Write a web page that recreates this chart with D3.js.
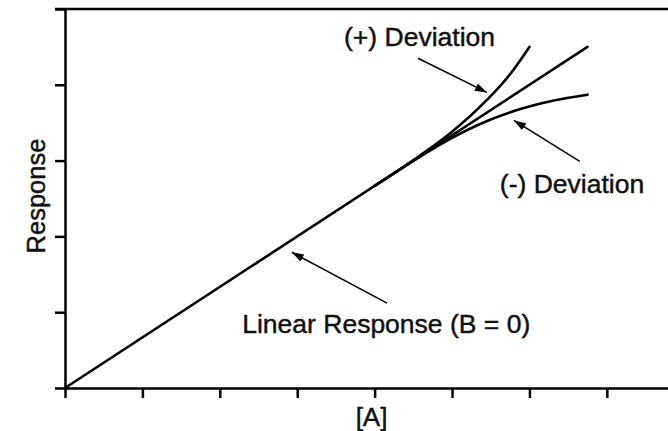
<!DOCTYPE html>
<html>
<head>
<meta charset="utf-8">
<script src="https://cdn.jsdelivr.net/npm/d3@7/dist/d3.min.js"></script>
<style>
  html, body { margin: 0; padding: 0; background: #fff; }
  svg { display: block; }
  text { font-family: "Liberation Sans", Arial, Helvetica, sans-serif; fill: #111; stroke: #111; stroke-width: 0.45; }
</style>
</head>
<body>
<svg id="chart" width="668" height="431"></svg>
<script>
// Tick positions (unlabelled) on both axes
const xTicks = [0, 1, 2, 3, 4, 5, 6, 7];
const yTicks = [0, 1, 2, 3, 4, 5];

// Ideal linear response: Response = (2/3)·[A]
const linearA = [0, 6.75];
const linearR = [0, 4.5];

// Positive deviation branch
const plusA = [4.0, 4.6, 5.0, 5.45, 5.75, 6.0];
const plusR = [2.667, 3.075, 3.38, 3.80, 4.14, 4.5];

// Negative deviation branch
const minusA = [4.0, 4.6, 5.0, 5.4, 5.85, 6.3, 6.75];
const minusR = [2.667, 3.06, 3.30, 3.50, 3.67, 3.79, 3.87];

// Annotations: label text and arrows (tail -> head) in data units
const labels = ["(+) Deviation", "(-) Deviation", "Linear Response (B = 0)"];
const labelPos = [[4.58, 4.51], [6.55, 2.57], [4.15, 0.726]];
const arrowTail = [[4.56, 4.35], [6.65, 2.99], [4.16, 1.12]];
const arrowHead = [[5.45, 3.9], [5.8, 3.53], [2.93, 1.79]];

const svg = d3.select("#chart");
const W = 668, H = 431;

const x = d3.scaleLinear().domain([0, 7.79]).range([65, 668]);
const y = d3.scaleLinear().domain([0, 5]).range([388, 9]);

// Frame top line
svg.append("line")
  .attr("x1", 55).attr("x2", W)
  .attr("y1", y(5)).attr("y2", y(5))
  .attr("stroke", "#000").attr("stroke-width", 2.5);

const xAxis = svg.append("g")
  .attr("transform", `translate(0,${y(0)})`)
  .call(d3.axisBottom(x).tickValues(xTicks).tickSize(10).tickSizeOuter(0).tickFormat(""));
const yAxis = svg.append("g")
  .attr("transform", `translate(${x(0)},0)`)
  .call(d3.axisLeft(y).tickValues(yTicks).tickSize(10).tickSizeOuter(0).tickFormat(""));
[xAxis, yAxis].forEach(g => {
  g.select(".domain").attr("stroke", "#000").attr("stroke-width", 2.5);
  g.selectAll(".tick line").attr("stroke", "#000").attr("stroke-width", 2.5);
});

// Curves
const line = d3.line().x(d => x(d[0])).y(d => y(d[1])).curve(d3.curveMonotoneX);
const series = [
  d3.zip(linearA, linearR),
  d3.zip(plusA, plusR),
  d3.zip(minusA, minusR)
];
svg.selectAll("path.curve").data(series).enter().append("path")
  .attr("class", "curve")
  .attr("d", line)
  .attr("fill", "none")
  .attr("stroke", "#000")
  .attr("stroke-width", 2.6)
  .attr("stroke-linecap", "round");

// Arrow marker
svg.append("defs").append("marker")
  .attr("id", "head")
  .attr("viewBox", "0 0 12 8")
  .attr("refX", 12).attr("refY", 4)
  .attr("markerWidth", 12).attr("markerHeight", 8)
  .attr("markerUnits", "userSpaceOnUse")
  .attr("orient", "auto")
  .append("path").attr("d", "M0,0 L12,4 L0,8 Z").attr("fill", "#000");

svg.selectAll("line.arrow").data(d3.range(arrowTail.length)).enter().append("line")
  .attr("class", "arrow")
  .attr("x1", i => x(arrowTail[i][0])).attr("y1", i => y(arrowTail[i][1]))
  .attr("x2", i => x(arrowHead[i][0])).attr("y2", i => y(arrowHead[i][1]))
  .attr("stroke", "#000").attr("stroke-width", 1.6)
  .attr("marker-end", "url(#head)");

svg.selectAll("text.note").data(labels).enter().append("text")
  .attr("class", "note")
  .attr("x", (d, i) => x(labelPos[i][0]))
  .attr("y", (d, i) => y(labelPos[i][1]))
  .attr("text-anchor", "middle")
  .attr("font-size", 26.5)
  .text(d => d);

// Axis titles
svg.append("text")
  .attr("x", x(3.96)).attr("y", 426)
  .attr("text-anchor", "middle").attr("font-size", 26)
  .text("[A]");
svg.append("text")
  .attr("transform", `translate(45,196) rotate(-90)`)
  .attr("text-anchor", "middle").attr("font-size", 25.5)
  .text("Response");
</script>
</body>
</html>
